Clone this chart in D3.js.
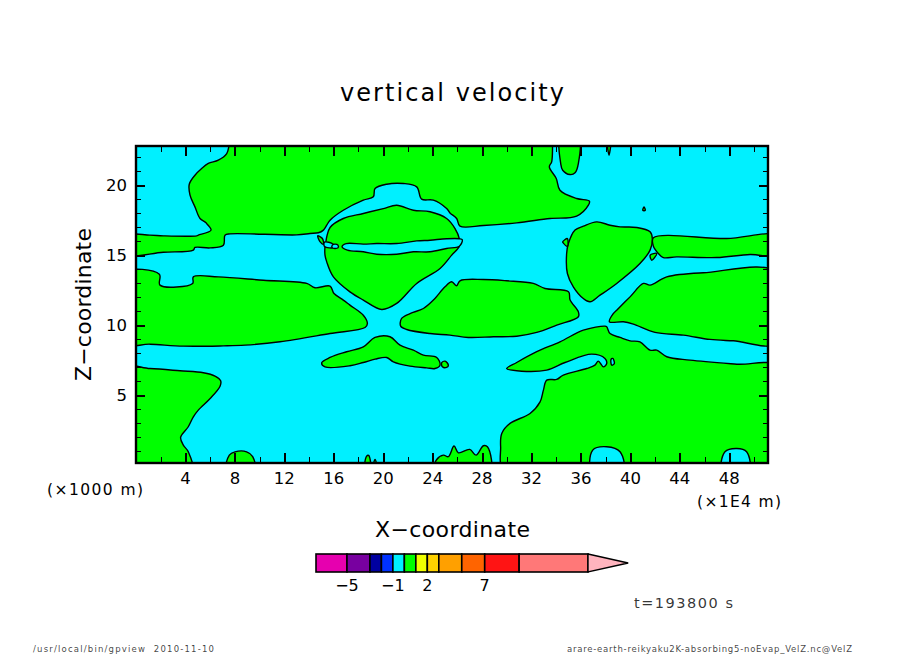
<!DOCTYPE html>
<html><head><meta charset="utf-8">
<script src="https://cdn.jsdelivr.net/npm/d3@7"></script>
<style>html,body{margin:0;padding:0;background:#fff}svg{display:block}text{font-family:"DejaVu Sans",sans-serif;fill:#000}</style>
</head><body><svg id="c" width="904" height="654"></svg>
<script>
const xDomain=[0,51.13], zDomain=[0.15,22.8];
const xMajor=[4,8,12,16,20,24,28,32,36,40,44,48];
const xMinor=[2,6,10,14,18,22,26,30,34,38,42,46,50];
const zMajor=[5,10,15,20];
const zMinor=[1,2,3,4,6,7,8,9,11,12,13,14,16,17,18,19,21,22];
const legendLevels=[-7.7,-5,-3,-2,-1,0,1,2,3,5,7,10,16];
const legendTip=19.5;
const legendColors=["#E600AF","#7800A0","#0000A0","#0032FF","#00F0FF","#00FF00","#F0FF00","#FFD200","#FFA000","#FF6400","#FF1414","#FF7878"];
const legendTipColor="#FFB4BE";
const legendLabels=[[-5,"−5"],[-1,"−1"],[2,"2"],[7,"7"]];

const upperGreen=[[7.6,23.6],[7.52,22.8],[7.34,22.26],[6.66,21.79],[5.85,21.55],[5.31,21.19],[4.77,20.71],[4.31,20.07],[4.37,19.29],[4.77,18.45],[5.18,17.62],[5.66,17.31],[6.07,16.79],[5.04,16.43],[4.91,16.38],[2.21,16.38],[1.13,16.43],[-1,16.38],[-1,15.05],[2.21,15.21],[4.64,15.36],[4.77,15.55],[5.99,15.52],[7.07,15.71],[7.2,16.43],[7.61,16.52],[13,16.45],[14.08,16.55],[14.75,16.6],[15.16,16.79],[15.43,17.14],[15.7,17.5],[16.77,18.21],[18.39,18.93],[19.2,19.17],[19.34,19.76],[20.28,20.07],[21.63,20.12],[22.71,19.88],[23.11,19],[24.06,18.93],[25.13,18.33],[25.4,18.02],[25.94,17.62],[26.21,17.07],[28.1,17.12],[30.8,17.31],[33.5,17.62],[35.65,17.79],[36.6,18.57],[36.68,18.86],[35.65,19.05],[34.3,19.64],[34,20.48],[33.44,21.31],[33.63,21.67],[33.7,22.8],[33.7,23.6]];
const topTongue=[[34.36,23.6],[34.36,21.55],[34.52,21.07],[35.11,20.76],[35.52,20.88],[35.79,21.55],[35.79,23.6]];
const topSpike=[[38.13,23.6],[38.27,22.14],[38.4,23.6]];
const lens=[[15.35,15.88],[15.43,16.31],[15.7,16.98],[16.77,17.62],[18.39,17.98],[20.01,18.33],[21.09,18.57],[22.44,18.21],[23.79,18.1],[25.13,17.62],[25.81,16.9],[26.16,16.17],[26.16,15.64],[25.54,15],[24.6,14.05],[22.71,12.98],[21.09,11.55],[19.88,11.12],[18.39,11.79],[17.31,12.38],[15.97,13.45],[15.43,14.52],[15.29,15],[15.29,15.6]];
const lensSlit=[[16.67,15.6],[17,15.83],[18.39,15.79],[19.47,15.83],[21.09,15.83],[22.71,16.02],[23.79,16.07],[25.13,16.17],[26.16,16.17],[26.4,16.1],[26.16,15.64],[25.13,15.48],[23.79,15.24],[22.44,15.24],[21.09,15.07],[19.47,15.07],[18.39,15.24],[17.1,15.36]];
const lensWedge=[[15.25,15.93],[15.94,15.79],[15.98,15.55],[15.25,15.62]];
const lensCell=[[15.88,15.72],[16.1,15.79],[16.34,15.72],[16.34,15.52],[16.1,15.48],[15.88,15.52]];
const lensSpeck=[[14.7,16.38],[15.08,16.19],[15.16,15.79],[14.9,15.95]];
const midLeft=[[-1,13.74],[1.89,13.64],[1.94,12.86],[4.58,12.98],[4.64,13.45],[6.66,13.45],[10.3,13.21],[13.81,12.98],[14.48,12.67],[15.7,12.79],[16.02,12.26],[16.77,11.79],[17.31,11.43],[18.39,10.71],[18.72,10.12],[18.53,9.83],[15.7,9.4],[11.65,8.81],[8.82,8.57],[7.07,8.52],[3.83,8.5],[1.13,8.64],[-1,8.67]];
const midCentre=[[25.54,13.1],[25.94,12.81],[26.21,13.17],[28.1,13.26],[29.99,13.17],[32.14,12.98],[33.09,12.62],[34.99,12.38],[35.12,11.79],[35.79,10.95],[35.79,10.6],[34.04,10],[32.42,9.48],[30.8,9.21],[28.92,9.17],[26.89,9.12],[25.4,9.29],[23.79,9.4],[21.9,9.69],[21.41,9.93],[21.49,10.48],[22.17,10.83],[23.25,11.19],[24.06,11.79],[25,12.74]];
const diamond=[[15.02,7.31],[15.7,7.69],[17.04,8.1],[18.39,8.45],[19.34,9.12],[20.55,9.17],[21.36,8.57],[22.44,8.21],[23.25,7.86],[24.33,7.69],[24.6,7.14],[24.19,6.9],[23.52,6.95],[22.17,7.07],[20.82,7.38],[20.28,7.69],[19.34,7.57],[18.39,7.33],[17.31,7.1],[15.29,7.02]];
const diamondIsle=[[24.73,7.31],[25,7.43],[25.27,7.14],[25.13,6.98],[24.79,7.02]];
const lowerLeft=[[-1,6.95],[1.13,6.9],[3.56,6.74],[5.45,6.6],[6.39,6.36],[6.85,6.02],[6.8,5.64],[6,4.76],[5.04,3.93],[4.64,3.45],[4.23,2.74],[3.61,1.98],[3.83,1.43],[4.23,0.95],[4.55,-0.6],[-1,-0.6]];
const bump1=[[7.3,-0.6],[7.55,0.71],[8.01,0.95],[8.95,0.95],[9.44,0.6],[9.62,-0.6]];
const bump2=[[18.52,-0.6],[18.66,0.64],[18.82,0.69],[18.96,-0.6]];
const bump3=[[19.15,-0.6],[19.34,0.4],[19.52,-0.6]];
const bump4=[[24.05,-0.6],[24.33,0.4],[24.87,0.71],[25.27,0.6],[25.73,1.36],[26.08,0.88],[27,1.12],[27.51,0.71],[28.1,1.38],[28.43,1.31],[28.62,-0.6]];
const lowerRight=[[38.08,9.88],[37.94,9.93],[36.19,9.64],[34.3,8.81],[32.42,8.1],[30.8,7.33],[29.99,6.9],[31.2,6.71],[33.23,6.79],[34.71,7.33],[36.87,7.93],[37.94,7.62],[38.08,7.26],[37.81,7.02],[37.4,7.43],[37.13,7.14],[36.46,6.9],[34.57,6.43],[34.03,6.12],[33.23,6.07],[32.96,5.36],[32.69,4.52],[31.88,3.69],[30.26,2.98],[29.59,2.26],[29.5,1.31],[29.9,-0.6],[52,-0.6],[52,7.0],[48.6,7.21],[44.82,7.5],[42.94,7.74],[42.13,8.21],[41.59,8.21],[40.77,8.81],[39.97,8.88],[39.16,9.12],[38.35,9.4]];
const teardrop=[[34.84,15.12],[34.98,15.83],[35.52,16.79],[36.19,17.07],[37.27,17.38],[38.35,17.14],[39.16,17.02],[40.51,16.98],[41.59,16.67],[41.77,16.19],[41.59,15.36],[40.77,14.4],[38.89,12.98],[37.54,12.14],[36.73,11.67],[36.19,11.9],[35.38,12.74],[34.9,13.69]];
const rightStrip=[[41.86,16.24],[47.79,16.19],[52,16.38],[52,15],[49.68,15.05],[46.98,14.83],[43.74,14.88],[42.66,14.83],[42.26,15.12],[41.86,15.64]];
const stripSpeck=[[42.13,15.12],[41.73,14.64],[41.6,15]];
const rightLower=[[52,13.74],[45.9,13.74],[42.94,13.45],[41.59,12.86],[41.05,12.98],[39.97,12.02],[38.89,11.07],[38.62,10.83],[38.3,10.24],[39.43,10.24],[40.24,10.07],[41.99,9.48],[44.28,9.29],[46.44,8.98],[48.33,8.88],[52,8.72]];
const isleA=[[34.52,15.95],[34.9,16.19],[34.9,15.64],[34.56,15.88]];
const isleB=[[41,18.2],[41.1,18.45],[41.2,18.2]];
const greens=[upperGreen,topTongue,topSpike,lens,lensSpeck,midLeft,midCentre,diamond,diamondIsle,lowerLeft,bump1,bump2,bump3,bump4,lowerRight,teardrop,rightStrip,stripSpeck,rightLower,isleA,isleB];
const hole1=[[36.9,-0.6],[36.95,1.07],[38.08,1.31],[39.16,0.95],[39.42,-0.6]];
const hole2=[[47.42,-0.6],[47.65,0.95],[48.6,1.19],[49.4,0.95],[49.6,-0.6]];
const hole3=[[38.43,7.55],[38.57,7.62],[38.7,7.26],[38.49,7.14]];
const cyans=[lensSlit,lensWedge,lensCell,hole1,hole2,hole3];

const svg=d3.select("#c");
const x=d3.scaleLinear().domain(xDomain).range([136,768]);
const z=d3.scaleLinear().domain(zDomain).range([463,146]);
const CYAN="#00F0FF",GREEN="#00FF00";
const defs=svg.append("defs");
defs.append("clipPath").attr("id","plot").append("rect").attr("x",136).attr("y",146).attr("width",632).attr("height",317);
const plot=svg.append("g").attr("clip-path","url(#plot)");
plot.append("rect").attr("x",136).attr("y",146).attr("width",632).attr("height",317).attr("fill",CYAN);
const line=d3.line().x(d=>x(d[0])).y(d=>z(d[1])).curve(d3.curveCatmullRomClosed.alpha(0.5));
plot.selectAll(".g").data(greens).join("path").attr("class","g").attr("d",line).attr("fill",GREEN).attr("stroke","#000").attr("stroke-width",1.4).attr("stroke-linejoin","round");
plot.selectAll(".h").data(cyans).join("path").attr("class","h").attr("d",line).attr("fill",CYAN).attr("stroke","#000").attr("stroke-width",1.4).attr("stroke-linejoin","round");

function ax(gen,tr,vals,size,w){
  const g=svg.append("g").attr("transform",tr).call(gen.tickValues(vals).tickSizeInner(size).tickSizeOuter(0).tickFormat(""));
  g.select(".domain").remove();
  g.selectAll("line").attr("stroke","#000").attr("stroke-width",w).attr("shape-rendering","crispEdges");
  return g;
}
ax(d3.axisBottom(x),"translate(0,463)",xMajor,-10,2);
ax(d3.axisBottom(x),"translate(0,463)",xMinor,-6,1);
ax(d3.axisTop(x),"translate(0,146)",xMajor,-10,2);
ax(d3.axisTop(x),"translate(0,146)",xMinor,-6,1);
ax(d3.axisLeft(z),"translate(136,0)",zMajor,-9,2);
ax(d3.axisLeft(z),"translate(136,0)",zMinor,-5,1);
ax(d3.axisRight(z),"translate(768,0)",zMajor,-9,2);
ax(d3.axisRight(z),"translate(768,0)",zMinor,-5,1);
svg.append("rect").attr("x",136).attr("y",146).attr("width",632).attr("height",317).attr("fill","none").attr("stroke","#000").attr("stroke-width",2.4);

svg.selectAll(".xl").data(xMajor).join("text").attr("class","xl").attr("x",d=>x(d)).attr("y",484).attr("text-anchor","middle").attr("font-size",16.5).text(d=>d);
svg.selectAll(".zl").data(zMajor).join("text").attr("class","zl").attr("x",127).attr("y",d=>z(d)+6).attr("text-anchor","end").attr("font-size",16.5).text(d=>d);

function label(t,x0,y0,size,len,extra){
  const s=svg.append("text").attr("x",x0).attr("y",y0).attr("font-size",size).attr("textLength",len).attr("lengthAdjust","spacing").text(t);
  if(extra) s.attr("transform",extra);
  return s;
}
label("vertical velocity",340,101,24,224);
label("X−coordinate",375,537,22,155);
label("Z−coordinate",0,0,22,153,"translate(91,381) rotate(-90)");
label("(×1000 m)",47,495,15.5,96);
label("(×1E4 m)",697,507,15.5,84);
label("t=193800 s",634,608,14.5,99).attr("fill-opacity",0.8);
label("/usr/local/bin/gpview  2010-11-10",33,652,8.5,181).attr("fill-opacity",0.75).style("white-space","pre");
label("arare-earth-reikyaku2K-absorbing5-noEvap_VelZ.nc@VelZ",567,652,8.5,285).attr("fill-opacity",0.75);

const lx=d3.scaleLinear().domain([legendLevels[0],legendLevels[legendLevels.length-1]]).range([316,588]);
const ly0=554,ly1=572;
svg.selectAll(".lb").data(legendColors).join("rect").attr("class","lb")
 .attr("x",(d,i)=>lx(legendLevels[i])).attr("width",(d,i)=>lx(legendLevels[i+1])-lx(legendLevels[i]))
 .attr("y",ly0).attr("height",ly1-ly0).attr("fill",d=>d).attr("stroke","#000").attr("stroke-width",1.6);
svg.append("path").datum([[legendLevels[12],ly0],[legendTip,(ly0+ly1)/2],[legendLevels[12],ly1]])
 .attr("d",d3.line().x(d=>lx(d[0])).y(d=>d[1]).curve(d3.curveLinearClosed))
 .attr("fill",legendTipColor).attr("stroke","#000").attr("stroke-width",1.4);
svg.selectAll(".ll").data(legendLabels).join("text").attr("class","ll").attr("x",d=>lx(d[0])).attr("y",591).attr("text-anchor","middle").attr("font-size",16).text(d=>d[1]);
</script></body></html>
